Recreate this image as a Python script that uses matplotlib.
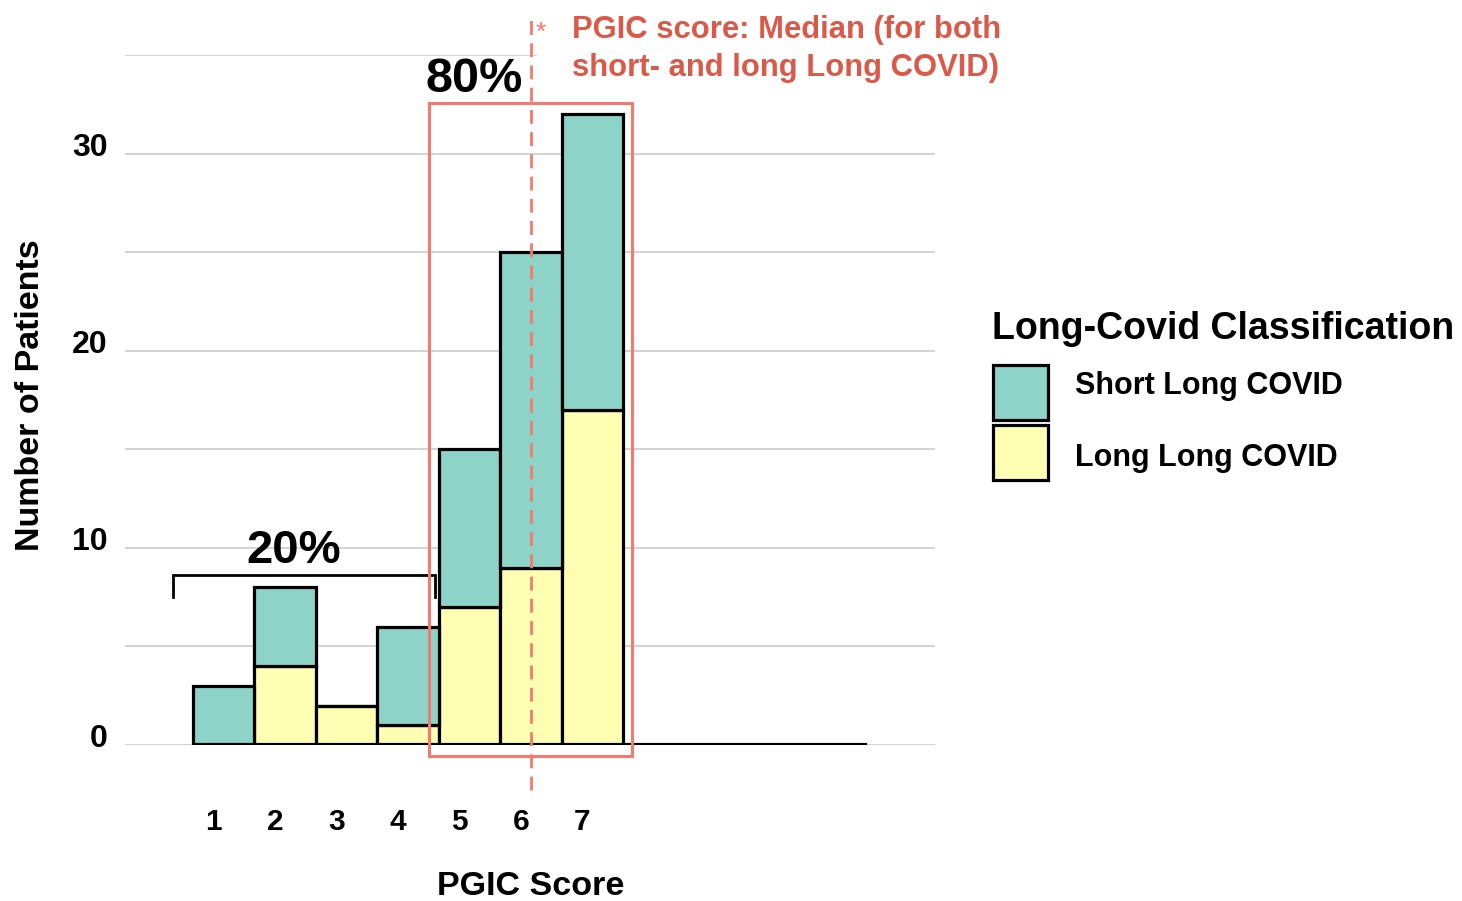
import matplotlib
matplotlib.use("Agg")
import matplotlib.pyplot as plt
from matplotlib.patches import Rectangle

plt.rcParams['font.family'] = ['Liberation Sans', 'DejaVu Sans']

# ---- data ----
scores = [1, 2, 3, 4, 5, 6, 7]
long_long = [0, 4, 2, 1, 7, 9, 17]
short_long = [3, 4, 0, 5, 8, 16, 15]
yticks = [0, 10, 20, 30]
grid_levels = [0, 5, 10, 15, 20, 25, 30, 35]
median_score = 6

teal = '#8DD3C7'
yellow = '#FFFFB3'
salmon = '#F47A6E'
red_text = '#DA5A4A'

W, H = 1462, 901
fig = plt.figure(figsize=(W / 100, H / 100), dpi=100)
ax = fig.add_axes([125 / W, (H - 745) / H, 810 / W, 690 / H])
ax.set_xlim(-0.607, 12.58)
ax.set_ylim(0, 35)
ax.axis('off')

# gridlines
for g in grid_levels:
    ax.axhline(g, color='#CCCCCC', lw=1.2, zorder=0)

# bars
ax.bar(scores, long_long, width=1.0, color=yellow, edgecolor='black', lw=2.3, zorder=3)
ax.bar(scores, short_long, width=1.0, bottom=long_long, color=teal, edgecolor='black', lw=2.3, zorder=3)

# baseline
ax.plot([0.5, 11.47], [0, 0], color='black', lw=3, solid_capstyle='butt', zorder=4)

# tick labels
for s in scores:
    ax.text(s - 0.16, -3.9, str(s), ha='center', va='center', fontsize=21.5, fontweight='bold')
for v in yticks:
    ax.text(-0.884, v + 0.3, str(v), ha='right', va='center', fontsize=23, fontweight='bold')

ax.text(6.0, -7.2, 'PGIC Score', ha='center', va='center', fontsize=24.5, fontweight='bold')
ax.text(-2.15, 17.74, 'Number of Patients', ha='center', va='center', rotation=90,
        fontsize=24.5, fontweight='bold')

# red box around 5-7
ax.add_patch(Rectangle((4.342, -0.56), 7.646 - 4.342, 32.54 + 0.56, fill=False,
                       edgecolor=salmon, lw=2.2, zorder=5, clip_on=False))
# median dashed line
ax.plot([median_score, median_score], [-2.28, 37.15], color=salmon, lw=2,
        linestyle=(0, (5, 3)), zorder=6, clip_on=False)

# annotation text
ax.text(6.165, 36.1, '*', color=salmon, ha='center', va='center', fontsize=19, zorder=7,
        clip_on=False)
ax.text(6.67, 35.3, 'PGIC score: Median (for both\nshort- and long Long COVID)',
        color=red_text, ha='left', va='center', fontsize=22.3, fontweight='bold',
        linespacing=1.38, zorder=7, clip_on=False,
        bbox=dict(facecolor='white', edgecolor='none', pad=2))
# cover top gridline right of dashed line
ax.add_patch(Rectangle((6.1, 34.5), 6.6, 1.0, facecolor='white', edgecolor='none',
                       zorder=1, clip_on=False))

ax.text(5.07, 33.76, '80%', ha='center', va='center', fontsize=35, fontweight='bold',
        zorder=7, clip_on=False)

# bracket for 20%
ax.plot([0.174, 0.174, 4.44, 4.44], [7.5, 8.62, 8.62, 7.5], color='black', lw=2,
        zorder=4, solid_joinstyle='miter')
ax.text(2.14, 9.83, '20%', ha='center', va='center', fontsize=34, fontweight='bold', zorder=7)

# legend (manual, figure coords)
fig.text(992 / W, 1 - 329 / H, 'Long-Covid Classification', ha='left', va='center',
         fontsize=27, fontweight='bold')
fig.patches.append(Rectangle((993 / W, 1 - 420 / H), 55 / W, 55 / H, facecolor=teal,
                             edgecolor='black', lw=2.3, transform=fig.transFigure, figure=fig))
fig.patches.append(Rectangle((993 / W, 1 - 480 / H), 55 / W, 55 / H, facecolor=yellow,
                             edgecolor='black', lw=2.3, transform=fig.transFigure, figure=fig))
fig.text(1075 / W, 1 - 386 / H, 'Short Long COVID', ha='left', va='center', fontsize=22,
         fontweight='bold')
fig.text(1075 / W, 1 - 458 / H, 'Long Long COVID', ha='left', va='center', fontsize=22,
         fontweight='bold')

fig.savefig('out.png', dpi=100)
